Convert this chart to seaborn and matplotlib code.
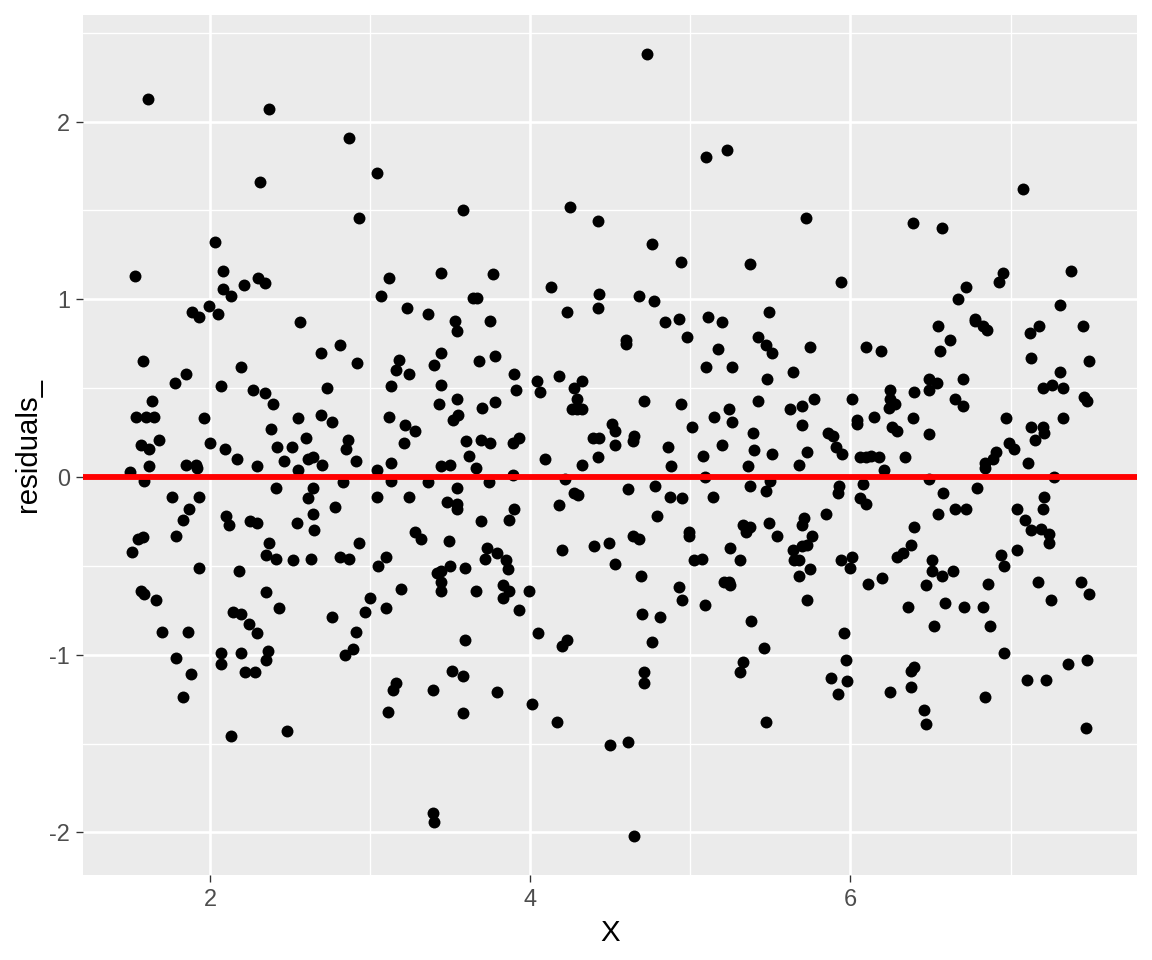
import matplotlib
matplotlib.use('Agg')
import matplotlib.pyplot as plt
from matplotlib.ticker import MultipleLocator
import numpy as np
import pandas as pd
import seaborn as sns

# (X, residuals_) pairs, grouped by region of the panel
upper_left = [(1.61, 2.13), (2.37, 2.07), (2.87, 1.91), (2.31, 1.66), (2.93, 1.46), (2.03, 1.32),
              (1.53, 1.13), (2.08, 1.16), (2.21, 1.08), (2.30, 1.12), (2.34, 1.09), (2.08, 1.06),
              (2.13, 1.02), (1.99, 0.96), (1.89, 0.93), (1.93, 0.90), (2.05, 0.92), (2.56, 0.87)]
upper_midleft = [(3.04, 1.71), (3.58, 1.50), (4.25, 1.52), (4.42, 1.44), (3.12, 1.12), (3.07, 1.02),
                 (3.44, 1.15), (3.77, 1.14), (3.23, 0.95), (3.36, 0.92), (3.53, 0.88), (3.64, 1.01),
                 (3.67, 1.01), (3.75, 0.88), (4.13, 1.07), (4.23, 0.93), (4.43, 1.03), (4.42, 0.95)]
upper_midright = [(4.73, 2.38), (5.10, 1.80), (5.23, 1.84), (5.72, 1.46), (4.76, 1.31), (4.94, 1.21),
                  (5.37, 1.20), (5.94, 1.10), (4.68, 1.02), (4.77, 0.99), (4.84, 0.87), (4.93, 0.89),
                  (5.11, 0.90), (5.20, 0.87), (5.49, 0.93)]
upper_right = [(7.08, 1.62), (6.39, 1.43), (6.57, 1.40), (6.95, 1.15), (6.93, 1.10), (7.38, 1.16),
               (6.72, 1.07), (6.67, 1.00), (7.31, 0.97), (6.78, 0.89)]

middle_left = [(1.58, 0.65), (1.78, 0.53), (1.85, 0.58), (2.19, 0.62), (2.07, 0.51), (2.69, 0.70),
               (2.81, 0.74), (2.92, 0.64), (2.73, 0.50), (1.64, 0.43), (1.54, 0.34), (1.60, 0.34),
               (1.65, 0.34), (1.96, 0.33), (2.27, 0.49), (2.34, 0.47), (2.39, 0.41), (2.38, 0.27),
               (2.55, 0.33), (2.69, 0.35), (2.76, 0.31), (1.68, 0.21), (1.57, 0.18), (1.62, 0.16),
               (2.00, 0.19), (2.09, 0.16), (2.17, 0.10), (2.29, 0.06), (2.42, 0.17), (2.51, 0.17),
               (2.60, 0.22), (2.46, 0.09), (2.61, 0.10), (2.64, 0.11), (2.70, 0.07), (2.55, 0.04),
               (2.86, 0.21), (2.85, 0.16), (2.91, 0.09), (1.50, 0.03), (1.62, 0.06), (1.85, 0.07),
               (1.91, 0.07), (1.92, 0.05), (1.59, -0.02), (2.41, -0.06), (2.64, -0.06), (2.83, -0.03),
               (1.76, -0.11), (1.93, -0.11), (2.61, -0.12), (1.87, -0.18), (1.83, -0.24), (2.10, -0.22),
               (2.12, -0.27), (2.25, -0.25), (2.29, -0.26), (2.54, -0.26), (2.64, -0.21), (2.65, -0.30),
               (2.78, -0.17), (1.55, -0.35), (1.58, -0.34), (1.79, -0.33), (1.51, -0.42), (2.37, -0.37),
               (2.35, -0.44), (2.41, -0.46), (2.52, -0.47), (2.63, -0.46), (2.81, -0.45), (2.87, -0.46),
               (2.93, -0.37), (1.93, -0.51), (2.18, -0.53)]
middle_midleft = [(3.54, 0.82), (3.18, 0.66), (3.16, 0.60), (3.24, 0.58), (3.44, 0.70), (3.40, 0.63),
                  (3.68, 0.65), (3.78, 0.68), (3.13, 0.51), (3.44, 0.52), (3.90, 0.58), (3.91, 0.49),
                  (4.04, 0.54), (4.06, 0.48), (4.18, 0.57), (4.27, 0.50), (4.32, 0.54), (4.29, 0.44),
                  (4.26, 0.38), (4.32, 0.38), (4.29, 0.38), (3.43, 0.41), (3.54, 0.44), (3.55, 0.35),
                  (3.52, 0.32), (3.70, 0.39), (3.78, 0.42), (3.12, 0.34), (3.22, 0.29), (3.28, 0.26),
                  (3.21, 0.19), (3.60, 0.20), (3.69, 0.21), (3.75, 0.19), (3.89, 0.19), (3.93, 0.22),
                  (3.62, 0.12), (3.13, 0.08), (3.04, 0.04), (3.44, 0.06), (3.50, 0.07), (3.66, 0.05),
                  (3.89, 0.01), (4.09, 0.10), (4.32, 0.07), (4.42, 0.11), (4.39, 0.22), (4.43, 0.22),
                  (4.51, 0.30), (4.53, 0.26), (4.53, 0.18), (3.13, -0.02), (3.36, -0.03), (3.74, -0.03),
                  (3.54, -0.06), (4.22, -0.01), (3.04, -0.11), (3.24, -0.11), (4.27, -0.09), (4.30, -0.10),
                  (3.48, -0.14), (3.54, -0.15), (3.54, -0.18), (4.18, -0.16), (3.90, -0.18), (3.87, -0.24),
                  (3.69, -0.25), (3.28, -0.31), (3.32, -0.35), (3.49, -0.36), (4.20, -0.41), (4.40, -0.39),
                  (4.49, -0.37), (3.73, -0.40), (3.72, -0.46), (3.79, -0.43), (3.85, -0.47), (3.86, -0.52),
                  (3.10, -0.45), (3.05, -0.50), (3.50, -0.50), (3.59, -0.51), (3.42, -0.54), (3.44, -0.53),
                  (3.44, -0.59), (3.44, -0.64), (3.19, -0.63), (3.66, -0.64), (3.83, -0.61), (3.87, -0.64),
                  (3.99, -0.64), (4.53, -0.49)]
middle_midright = [(4.60, 0.77), (4.60, 0.75), (4.98, 0.79), (5.17, 0.72), (5.42, 0.79), (5.47, 0.74),
                   (5.51, 0.70), (5.75, 0.73), (5.10, 0.62), (5.26, 0.62), (5.48, 0.55), (5.64, 0.59),
                   (4.71, 0.43), (4.94, 0.41), (5.42, 0.43), (5.62, 0.38), (5.70, 0.40), (5.77, 0.44),
                   (6.01, 0.44), (5.15, 0.34), (5.24, 0.38), (5.26, 0.31), (5.01, 0.28), (4.65, 0.23),
                   (4.64, 0.20), (4.86, 0.17), (5.08, 0.12), (5.20, 0.18), (5.39, 0.25), (5.40, 0.15),
                   (5.51, 0.13), (5.70, 0.29), (5.73, 0.14), (5.68, 0.07), (5.86, 0.25), (5.89, 0.23),
                   (5.91, 0.17), (5.95, 0.13), (4.88, 0.06), (5.36, 0.06), (5.09, 0.00), (5.50, -0.02),
                   (5.93, -0.05), (5.92, -0.09), (4.61, -0.07), (4.78, -0.05), (4.87, -0.11), (4.95, -0.12),
                   (5.14, -0.11), (5.37, -0.05), (5.47, -0.08), (4.79, -0.22), (5.85, -0.21), (5.49, -0.26),
                   (5.33, -0.27), (5.37, -0.28), (5.35, -0.31), (5.71, -0.23), (5.70, -0.27), (5.54, -0.33),
                   (5.76, -0.33), (4.64, -0.33), (4.68, -0.35), (4.99, -0.31), (4.99, -0.33), (5.25, -0.40),
                   (5.64, -0.41), (5.70, -0.39), (5.73, -0.38), (5.65, -0.47), (5.68, -0.47), (5.75, -0.52),
                   (5.68, -0.56), (5.02, -0.47), (5.07, -0.46), (5.31, -0.47), (4.69, -0.56), (5.94, -0.47),
                   (6.01, -0.45), (6.00, -0.51), (4.93, -0.62), (5.21, -0.59), (5.24, -0.59), (5.25, -0.61)]
middle_right = [(6.55, 0.85), (6.78, 0.88), (6.83, 0.85), (6.85, 0.83), (6.62, 0.77), (6.56, 0.71),
                (6.10, 0.73), (6.19, 0.71), (7.12, 0.81), (7.18, 0.85), (7.45, 0.85), (7.13, 0.67),
                (7.49, 0.65), (7.31, 0.59), (6.49, 0.55), (6.54, 0.53), (6.49, 0.49), (6.70, 0.55),
                (6.25, 0.49), (6.25, 0.44), (6.28, 0.41), (6.24, 0.39), (6.40, 0.48), (6.65, 0.44),
                (6.70, 0.40), (7.20, 0.50), (7.26, 0.52), (7.33, 0.50), (7.46, 0.45), (7.48, 0.43),
                (6.04, 0.32), (6.04, 0.30), (6.15, 0.34), (6.39, 0.33), (6.26, 0.28), (6.29, 0.26),
                (6.49, 0.24), (6.97, 0.33), (7.13, 0.28), (7.20, 0.28), (7.21, 0.25), (7.15, 0.21),
                (7.33, 0.33), (6.99, 0.19), (7.02, 0.16), (6.91, 0.14), (6.89, 0.10), (6.84, 0.08),
                (6.84, 0.05), (7.11, 0.08), (6.06, 0.11), (6.10, 0.11), (6.13, 0.12), (6.18, 0.11),
                (6.34, 0.11), (6.21, 0.04), (6.49, -0.01), (6.08, -0.04), (7.27, 0.00), (6.79, -0.06),
                (6.58, -0.09), (6.06, -0.12), (6.10, -0.15), (7.21, -0.11), (7.20, -0.18), (7.04, -0.18),
                (7.09, -0.24), (6.55, -0.21), (6.65, -0.18), (6.72, -0.18), (7.13, -0.30), (7.19, -0.29),
                (7.24, -0.32), (7.24, -0.37), (6.40, -0.28), (6.38, -0.38), (6.33, -0.43), (6.29, -0.45),
                (7.04, -0.41), (6.94, -0.44), (6.96, -0.50), (6.51, -0.47), (6.51, -0.53), (6.57, -0.56),
                (6.64, -0.53), (6.11, -0.60), (6.20, -0.57), (6.47, -0.61), (6.86, -0.60), (7.17, -0.59),
                (7.44, -0.59), (7.49, -0.66)]

lower_left = [(1.57, -0.64), (1.59, -0.66), (1.66, -0.69), (1.70, -0.87), (1.86, -0.87), (1.79, -1.02),
              (1.88, -1.11), (1.83, -1.24), (2.35, -0.65), (2.43, -0.74), (2.14, -0.76), (2.19, -0.77),
              (2.24, -0.83), (2.29, -0.88), (2.07, -0.99), (2.07, -1.05), (2.19, -0.99), (2.36, -0.98),
              (2.35, -1.03), (2.22, -1.10), (2.28, -1.10), (2.13, -1.46), (2.48, -1.43), (2.76, -0.79),
              (2.97, -0.76), (3.00, -0.68), (2.91, -0.87), (2.89, -0.97), (2.84, -1.00)]
lower_midleft = [(3.10, -0.74), (3.83, -0.68), (3.93, -0.75), (3.59, -0.92), (4.05, -0.88), (4.23, -0.92),
                 (4.20, -0.95), (3.51, -1.09), (3.58, -1.12), (3.16, -1.16), (3.14, -1.20), (3.39, -1.20),
                 (3.79, -1.21), (3.11, -1.32), (3.58, -1.33), (4.01, -1.28), (4.17, -1.38), (4.50, -1.51),
                 (3.39, -1.89), (3.40, -1.94)]
lower_midright = [(4.95, -0.69), (5.09, -0.72), (5.73, -0.69), (4.70, -0.77), (4.81, -0.79), (5.38, -0.81),
                  (4.76, -0.93), (5.46, -0.96), (5.96, -0.88), (5.33, -1.04), (5.31, -1.10), (4.71, -1.10),
                  (4.71, -1.16), (5.97, -1.03), (5.88, -1.13), (5.98, -1.15), (5.92, -1.22), (5.47, -1.38),
                  (4.61, -1.49), (4.65, -2.02)]
lower_right = [(7.25, -0.69), (6.36, -0.73), (6.59, -0.71), (6.71, -0.73), (6.83, -0.73), (6.52, -0.84),
               (6.87, -0.84), (6.96, -0.99), (6.40, -1.07), (6.38, -1.09), (6.38, -1.18), (6.25, -1.21),
               (6.46, -1.31), (6.47, -1.39), (6.84, -1.24), (7.10, -1.14), (7.22, -1.14), (7.36, -1.05),
               (7.48, -1.03), (7.47, -1.41)]

blocks = [upper_left, upper_midleft, upper_midright, upper_right,
          middle_left, middle_midleft, middle_midright, middle_right,
          lower_left, lower_midleft, lower_midright, lower_right]
df = pd.DataFrame(np.vstack(blocks), columns=['X', 'residuals_'])

# ggplot2 theme_grey look
sns.set_style('darkgrid', {'axes.facecolor': '#EBEBEB', 'grid.color': 'white'})
plt.rcParams['font.family'] = ['Liberation Sans', 'DejaVu Sans']
plt.rcParams['axes.unicode_minus'] = False

fig = plt.figure(figsize=(6, 5), dpi=192)
ax = fig.add_axes([83 / 1152, 1 - 875 / 960, (1137 - 83) / 1152, (875 - 15) / 960])

sns.scatterplot(data=df, x='X', y='residuals_', color='black', s=20, linewidth=0, ax=ax, zorder=2)
ax.axhline(0, color='#FF0000', linewidth=2.2, zorder=3)

ax.set_xlim(1.206, 7.79)
ax.set_ylim(-2.24, 2.60)
ax.set_xticks([2, 4, 6])
ax.set_yticks([-2, -1, 0, 1, 2])
ax.xaxis.set_minor_locator(MultipleLocator(1))
ax.yaxis.set_minor_locator(MultipleLocator(0.5))
ax.set_axisbelow(True)
ax.grid(which='major', color='white', linewidth=1.0)
ax.grid(which='minor', color='white', linewidth=0.5)
ax.tick_params(which='major', length=2.75, width=0.5, color='#333333',
               labelsize=8.8, labelcolor='#4D4D4D', pad=2.2, bottom=True, left=True)
ax.tick_params(which='minor', length=0)
for side in ax.spines.values():
    side.set_visible(False)

ax.set_xlabel('X', fontsize=11, color='black', labelpad=2.75)
ax.set_ylabel('residuals_', fontsize=11, color='black', labelpad=2.75)

fig.savefig('out.png', dpi=192)
